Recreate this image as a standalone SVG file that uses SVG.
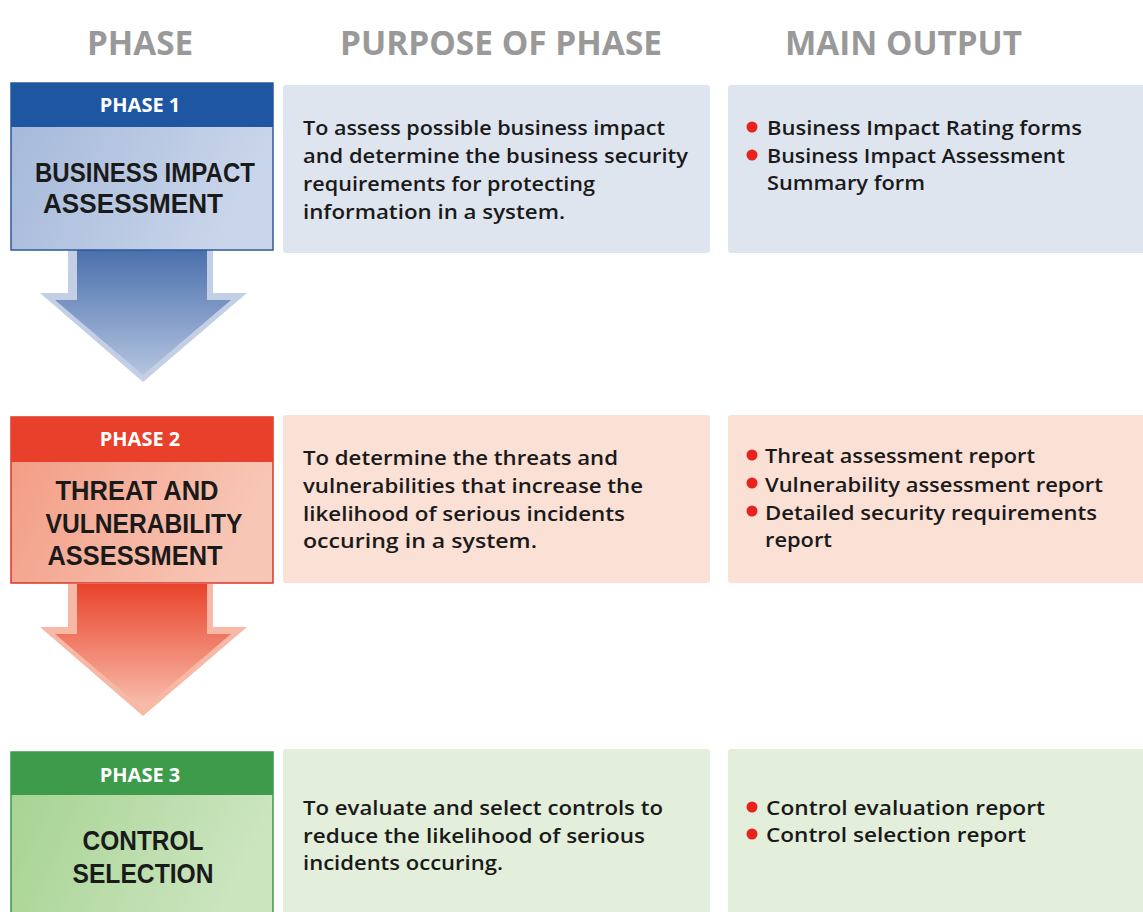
<svg xmlns="http://www.w3.org/2000/svg" width="1143" height="912" viewBox="0 0 1143 912">
<defs>
<linearGradient id="b1" x1="0" y1="0" x2="1" y2="0.3"><stop offset="0" stop-color="#a3b7d9"/><stop offset="1" stop-color="#c9d5ea"/></linearGradient>
<linearGradient id="b2" x1="0" y1="0" x2="1" y2="0.3"><stop offset="0" stop-color="#f29a82"/><stop offset="1" stop-color="#f8c6b5"/></linearGradient>
<linearGradient id="b3" x1="0" y1="0" x2="1" y2="0.3"><stop offset="0" stop-color="#a4d28f"/><stop offset="1" stop-color="#cbe5bf"/></linearGradient>
<linearGradient id="a1" x1="0" y1="0" x2="0" y2="1"><stop offset="0" stop-color="#4a70ac"/><stop offset="1" stop-color="#b4c4e0"/></linearGradient>
<linearGradient id="a2" x1="0" y1="0" x2="0" y2="1"><stop offset="0" stop-color="#e9432b"/><stop offset="1" stop-color="#f8c0ae"/></linearGradient>
<style>
.hd{font-family:"Open Sans","Liberation Sans",sans-serif;font-weight:700;font-size:34px;fill:#999999}
.ph{font-family:"Open Sans","Liberation Sans",sans-serif;font-weight:700;font-size:20px;fill:#ffffff;text-anchor:middle}
.nm{font-family:"Liberation Sans",Arial,sans-serif;font-weight:700;font-size:27px;fill:#1a1a1a;text-anchor:middle}
.tx{font-family:"Open Sans","Liberation Sans",sans-serif;font-weight:600;font-size:20px;fill:#1a1a1a}
.bl{fill:#e8231e}
</style>
</defs>
<rect width="1143" height="912" fill="#ffffff"/>

<g id="headings">
<text class="hd" x="87" y="55" textLength="106" lengthAdjust="spacingAndGlyphs">PHASE</text>
<text class="hd" x="340" y="55" textLength="322" lengthAdjust="spacingAndGlyphs">PURPOSE OF PHASE</text>
<text class="hd" x="785" y="55" textLength="237" lengthAdjust="spacingAndGlyphs">MAIN OUTPUT</text>
</g>

<g id="connectors">
<polygon points="68,250 213,250 213,293 247,293 143,382 40,293 68,293" fill="#c3cfe4"/>
<polygon points="77,250 207,250 207,300 231,300 143,375 55,300 77,300" fill="url(#a1)"/>
<polygon points="68,584 213,584 213,627 247,627 143,716 40,627 68,627" fill="#f7b8a6"/>
<polygon points="77,584 207,584 207,634 231,634 143,709 55,634 77,634" fill="url(#a2)"/>
</g>

<g id="phase1">
<rect x="11" y="83" width="262" height="167" fill="url(#b1)" stroke="#2b5a9b" stroke-width="1.5"/>
<rect x="11" y="83" width="262" height="44" fill="#1f56a2"/>
<text class="ph" x="140" y="112">PHASE 1</text>
<text class="nm" x="145" y="182" textLength="220" lengthAdjust="spacingAndGlyphs">BUSINESS IMPACT</text>
<text class="nm" x="133" y="213" textLength="180" lengthAdjust="spacingAndGlyphs">ASSESSMENT</text>
</g>

<g id="purpose1">
<rect x="283" y="85" width="427" height="168" rx="3" fill="#dfe5ef"/>
<text class="tx" x="303" y="135" textLength="362" lengthAdjust="spacingAndGlyphs">To assess possible business impact</text>
<text class="tx" x="303" y="163" textLength="385" lengthAdjust="spacingAndGlyphs">and determine the business security</text>
<text class="tx" x="303" y="191" textLength="292" lengthAdjust="spacingAndGlyphs">requirements for protecting</text>
<text class="tx" x="303" y="219" textLength="262" lengthAdjust="spacingAndGlyphs">information in a system.</text>
</g>

<g id="output1">
<rect x="728" y="85" width="420" height="168" rx="3" fill="#dfe5ef"/>
<circle class="bl" cx="752" cy="127" r="5.5"/>
<circle class="bl" cx="752" cy="155" r="5.5"/>
<text class="tx" x="767" y="135" textLength="315" lengthAdjust="spacingAndGlyphs">Business Impact Rating forms</text>
<text class="tx" x="767" y="163" textLength="298" lengthAdjust="spacingAndGlyphs">Business Impact Assessment</text>
<text class="tx" x="767" y="190" textLength="158" lengthAdjust="spacingAndGlyphs">Summary form</text>
</g>

<g id="phase2">
<rect x="11" y="417" width="262" height="166" fill="url(#b2)" stroke="#d8372a" stroke-width="1.5"/>
<rect x="11" y="417" width="262" height="45" fill="#e8402b"/>
<text class="ph" x="140" y="446">PHASE 2</text>
<text class="nm" x="137" y="500" textLength="163" lengthAdjust="spacingAndGlyphs">THREAT AND</text>
<text class="nm" x="144" y="533" textLength="197" lengthAdjust="spacingAndGlyphs">VULNERABILITY</text>
<text class="nm" x="135" y="565" textLength="175" lengthAdjust="spacingAndGlyphs">ASSESSMENT</text>
</g>

<g id="purpose2">
<rect x="283" y="415" width="427" height="168" rx="3" fill="#fbe0d6"/>
<text class="tx" x="303" y="465" textLength="315" lengthAdjust="spacingAndGlyphs">To determine the threats and</text>
<text class="tx" x="303" y="493" textLength="340" lengthAdjust="spacingAndGlyphs">vulnerabilities that increase the</text>
<text class="tx" x="303" y="521" textLength="322" lengthAdjust="spacingAndGlyphs">likelihood of serious incidents</text>
<text class="tx" x="303" y="548" textLength="234" lengthAdjust="spacingAndGlyphs">occuring in a system.</text>
</g>

<g id="output2">
<rect x="728" y="415" width="420" height="168" rx="3" fill="#fbe0d6"/>
<circle class="bl" cx="752" cy="455" r="5.5"/>
<circle class="bl" cx="752" cy="483" r="5.5"/>
<circle class="bl" cx="752" cy="511" r="5.5"/>
<text class="tx" x="765" y="463" textLength="270" lengthAdjust="spacingAndGlyphs">Threat assessment report</text>
<text class="tx" x="765" y="492" textLength="338" lengthAdjust="spacingAndGlyphs">Vulnerability assessment report</text>
<text class="tx" x="765" y="520" textLength="332" lengthAdjust="spacingAndGlyphs">Detailed security requirements</text>
<text class="tx" x="765" y="547" textLength="67" lengthAdjust="spacingAndGlyphs">report</text>
</g>

<g id="phase3">
<rect x="11" y="752" width="262" height="170" fill="url(#b3)" stroke="#3a9a4a" stroke-width="1.5"/>
<rect x="11" y="752" width="262" height="43" fill="#3d9b4b"/>
<text class="ph" x="140" y="782">PHASE 3</text>
<text class="nm" x="143" y="850" textLength="121" lengthAdjust="spacingAndGlyphs">CONTROL</text>
<text class="nm" x="143" y="883" textLength="141" lengthAdjust="spacingAndGlyphs">SELECTION</text>
</g>

<g id="purpose3">
<rect x="283" y="749" width="427" height="170" rx="3" fill="#e3efdb"/>
<text class="tx" x="303" y="815" textLength="360" lengthAdjust="spacingAndGlyphs">To evaluate and select controls to</text>
<text class="tx" x="303" y="843" textLength="342" lengthAdjust="spacingAndGlyphs">reduce the likelihood of serious</text>
<text class="tx" x="303" y="870" textLength="200" lengthAdjust="spacingAndGlyphs">incidents occuring.</text>
</g>

<g id="output3">
<rect x="728" y="749" width="420" height="170" rx="3" fill="#e3efdb"/>
<circle class="bl" cx="752" cy="807" r="5.5"/>
<circle class="bl" cx="752" cy="834" r="5.5"/>
<text class="tx" x="766" y="815" textLength="279" lengthAdjust="spacingAndGlyphs">Control evaluation report</text>
<text class="tx" x="766" y="842" textLength="260" lengthAdjust="spacingAndGlyphs">Control selection report</text>
</g>
</svg>
